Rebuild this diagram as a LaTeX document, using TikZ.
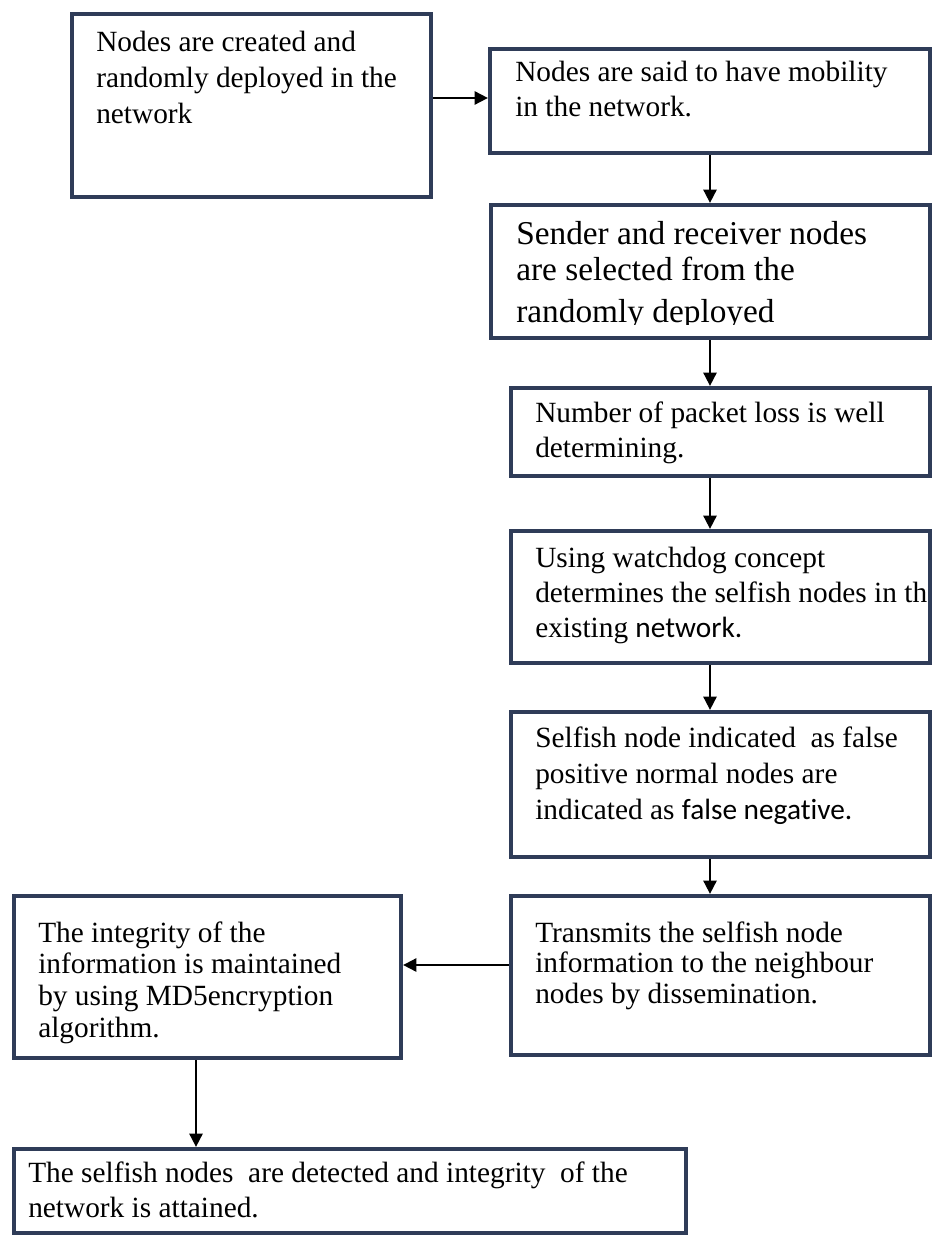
\documentclass[tikz,border=0pt]{standalone}
\usepackage{fontspec}
\setmainfont{Liberation Serif}
\newfontfamily\calfont[Ligatures=NoCommon]{Carlito}
\usetikzlibrary{arrows.meta}
\definecolor{boxnavy}{RGB}{47,60,88}

\begin{document}
\begin{tikzpicture}[x=0.75pt, y=-0.75pt,
  stepbox/.style={draw=boxnavy, line width=3.2pt, fill=white, inner sep=0},
  txt/.style={anchor=base west, inner sep=0, font=\fontsize{22}{27}\selectfont},
  flow/.style={line width=1.4pt, -{Triangle[length=10pt,width=10pt]}}]
\useasboundingbox (0,0) rectangle (934,1237);
\node[stepbox, minimum width=269.25pt, minimum height=137.25pt] (b1) at (251.5,105.5) {};
\node[stepbox, minimum width=330pt, minimum height=78pt] (b2) at (710,101) {};
\node[stepbox, minimum width=329.25pt, minimum height=99.75pt] (b3) at (710.5,271.5) {};
\node[stepbox, minimum width=314.25pt, minimum height=66pt] (b4) at (720.5,432) {};
\node[stepbox, minimum width=314.25pt, minimum height=99pt] (b5) at (720.5,597) {};
\node[stepbox, minimum width=314.25pt, minimum height=108.75pt] (b6) at (720.5,784.5) {};
\node[stepbox, minimum width=314.25pt, minimum height=119.25pt] (b7) at (720.5,975.5) {};
\node[stepbox, minimum width=290.25pt, minimum height=121.5pt] (b8) at (207.5,977) {};
\node[stepbox, minimum width=504pt, minimum height=63pt] (b9) at (350,1191) {};
\node[txt] (t1) at (96,52) {\parbox[t]{500pt}{Nodes are created and\\ randomly deployed in the\\ network}};
\node[txt, font=\fontsize{22}{26.25}\selectfont] (t2) at (515,82) {\parbox[t]{500pt}{Nodes are said to have mobility\\ in the network.}};
\begin{scope}
\clip (492,207) rectangle (928,324);
\node[txt, font=\fontsize{25}{31.5}\selectfont] (t3) at (516,245) {\parbox[t]{500pt}{Sender and receiver nodes\\[-4.5pt] are selected from the\\ randomly deployed}};
\end{scope}
\node[txt, font=\fontsize{22}{26.25}\selectfont] (t4) at (535,422) {\parbox[t]{500pt}{Number of packet loss is well\\ determining.}};
\node[txt, font=\fontsize{22}{26.25}\selectfont] (t5) at (535,567) {\parbox[t]{500pt}{Using watchdog concept\\ determines the selfish nodes in th\\ existing {\calfont network.}}};
\node[txt] (t6) at (535,747) {\parbox[t]{500pt}{Selfish node indicated~ as false\\ positive normal nodes are\\ indicated as {\calfont false negative.}}};
\node[txt, font=\fontsize{22}{23}\selectfont] (t7) at (535,942) {\parbox[t]{500pt}{Transmits the selfish node\\ information to the neighbour\\ nodes by dissemination.}};
\node[txt, font=\fontsize{22}{23.75}\selectfont] (t8) at (38,942) {\parbox[t]{500pt}{The integrity of the\\ information is maintained\\ by using MD5encryption\\ algorithm.}};
\node[txt, font=\fontsize{22}{26.25}\selectfont] (t9) at (28,1182) {\parbox[t]{500pt}{The selfish nodes~ are detected and integrity~ of the\\ network is attained.}};
\coordinate (link) at (0,98);
\coordinate (spine) at (710,0);
\coordinate (row) at (0,965);
\coordinate (drop) at (196,0);
\draw[flow] (b1.east |- link) -- (b2.west |- link);
\foreach \a/\b in {b2/b3,b3/b4,b4/b5,b5/b6,b6/b7}
  \draw[flow] (\a.south -| spine) -- (\b.north -| spine);
\draw[flow] (b7.west |- row) -- (b8.east |- row);
\draw[flow] (b8.south -| drop) -- (b9.north -| drop);
\end{tikzpicture}
\end{document}
